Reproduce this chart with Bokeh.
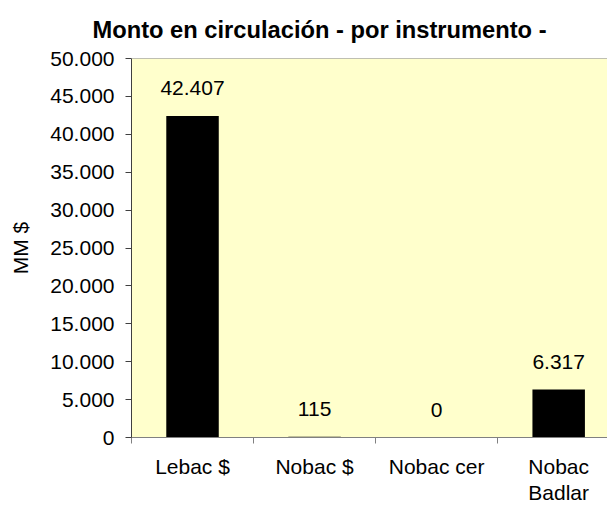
from bokeh.plotting import figure
from bokeh.models import ColumnDataSource, Range1d, FixedTicker, Span, LinearAxis
from bokeh.core.properties import value
from bokeh.embed import file_html
from bokeh.resources import INLINE

title_text = "Monto en circulación - por instrumento -"
categories = ["Lebac $", "Nobac $", "Nobac cer", "Nobac\nBadlar"]
values = [42407, 115, 0, 6317]
y_ticks = [0, 5000, 10000, 15000, 20000, 25000, 30000, 35000, 40000, 45000, 50000]
y_label = "MM $"

FONT = "Liberation Sans"


def fmt(v):
    return f"{v:,}".replace(",", ".")


centers = [i + 0.5 for i in range(len(categories))]
bounds = [float(i) for i in range(len(categories))]
line1 = [c.split("\n")[0] for c in categories]
line2 = [c.split("\n")[1] if "\n" in c else "" for c in categories]

src = ColumnDataSource(dict(x=centers, v=values, lab=[fmt(v) for v in values]))

p = figure(width=607, height=506, output_backend="svg", toolbar_location=None,
           x_range=Range1d(0, 3.9), y_range=Range1d(0, 50000),
           min_border_left=131, min_border_right=0, min_border_top=58, min_border_bottom=0)
p.background_fill_color = "#FFFFCC"
p.border_fill_color = "white"
p.outline_line_color = None
p.grid.visible = False

p.vbar(x="x", top="v", width=0.43, source=src, fill_color="black", line_color=None)
p.text(x="x", y="v", text="lab", source=src, text_align="center", text_baseline="alphabetic",
       y_offset=-28, text_font=value(FONT), text_font_size="21px", text_color="black")

p.add_layout(Span(location=y_ticks[-1], dimension="width", line_color="#808080", line_width=1))

xa = p.xaxis[0]
xa.ticker = FixedTicker(ticks=centers, minor_ticks=bounds)
xa.major_label_overrides = {c: lab for c, lab in zip(centers, line1)}
xa.major_tick_line_color = None
xa.major_tick_out = 6
xa.major_tick_in = 0
xa.minor_tick_out = 6
xa.minor_tick_in = 0
xa.minor_tick_line_color = "#808080"
xa.axis_line_color = "#808080"
xa.major_label_standoff = 11
xa.major_label_text_font = FONT
xa.major_label_text_font_size = "21px"
xa.major_label_text_color = "black"

xb = LinearAxis(ticker=FixedTicker(ticks=centers, minor_ticks=[]),
                major_label_overrides={c: lab for c, lab in zip(centers, line2)})
xb.axis_line_color = None
xb.major_tick_line_color = None
xb.minor_tick_line_color = None
xb.major_tick_out = 0
xb.major_tick_in = 0
xb.minor_tick_out = 0
xb.minor_tick_in = 0
xb.major_label_standoff = 0
xb.major_label_text_font = FONT
xb.major_label_text_font_size = "21px"
xb.major_label_text_color = "black"
p.add_layout(xb, "below")

ya = p.yaxis[0]
ya.ticker = FixedTicker(ticks=y_ticks, minor_ticks=[])
ya.major_label_overrides = {t: fmt(t) for t in y_ticks}
ya.major_tick_out = 6
ya.major_tick_in = 0
ya.major_tick_line_color = "#404040"
ya.axis_line_color = "#404040"
ya.major_label_standoff = 11
ya.major_label_text_font = FONT
ya.major_label_text_font_size = "21px"
ya.major_label_text_color = "black"
ya.axis_label = y_label
ya.axis_label_text_font = FONT
ya.axis_label_text_font_size = "21px"
ya.axis_label_text_font_style = "normal"
ya.axis_label_text_color = "black"
ya.axis_label_standoff = 15

p.title.text = title_text
p.title.text_font = FONT
p.title.text_font_size = "23.7px"
p.title.text_font_style = "bold"
p.title.text_color = "black"
p.title.align = "left"
p.title.offset = -39
p.title.vertical_align = "top"
p.title.standoff = 28

open("out.html", "w").write(file_html(p, INLINE))
